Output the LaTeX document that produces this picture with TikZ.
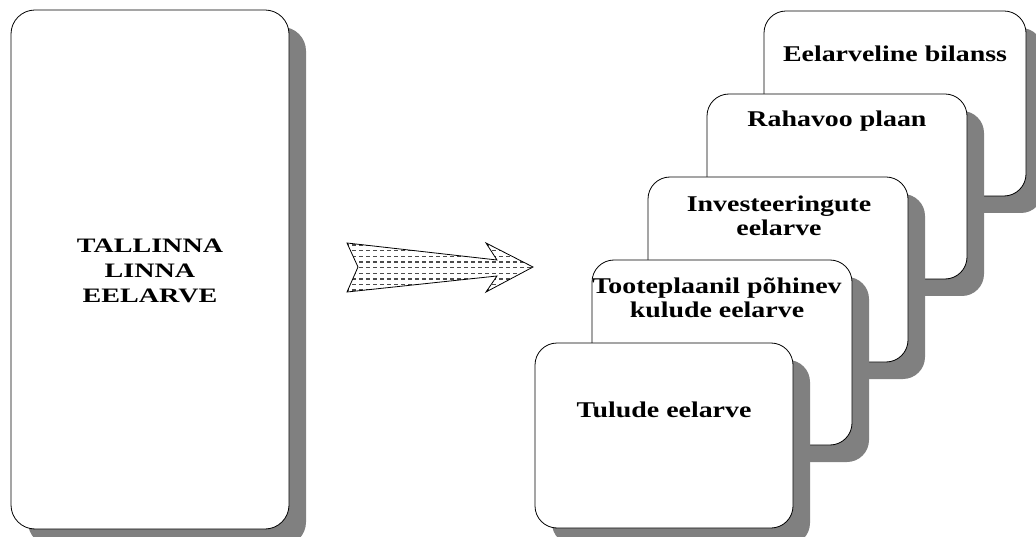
\documentclass[tikz,border=0pt]{standalone}
\usepackage{fontspec}
\setmainfont{Liberation Serif}
\newfontfamily\boxfont{Liberation Serif}[FakeStretch=1.24]
\newfontfamily\titlefont{Liberation Serif}[FakeStretch=1.37]
\usetikzlibrary{shadows}
\begin{document}
\begin{tikzpicture}[x=1pt,y=-1pt,
  card/.style={draw=black, line width=0.8pt, fill=white, rounded corners=22pt,
    anchor=north west, inner sep=0pt, outer sep=0pt, minimum height=185pt,
    drop shadow={shadow xshift=17pt, shadow yshift=-17pt, fill=black!50, opacity=1}},
  lbl/.style={anchor=base, align=center, inner sep=0pt,
    font=\boxfont\bfseries\fontsize{22.5}{24}\selectfont},
  biglbl/.style={anchor=base, align=center, inner sep=0pt,
    font=\titlefont\bfseries\fontsize{20.5}{25}\selectfont}
]
\useasboundingbox (0,0) rectangle (1036,537);

% the city budget (label anchored at the baseline of its last line)
\node[card, minimum width=278pt, minimum height=519pt, rounded corners=24pt] (city) at (11,10) {};
\node[biglbl] (citytxt) at (150,302) {TALLINNA\\LINNA\\EELARVE};

% block arrow with dashed fill
\coordinate (a1) at (347,243);
\coordinate (a2) at (497,260);
\coordinate (a3) at (486,243);
\coordinate (a4) at (533,267);
\coordinate (a5) at (486,292);
\coordinate (a6) at (497,276);
\coordinate (a7) at (347,292);
\coordinate (a8) at (358,267);
\begin{scope}
  \clip (a1) -- (a2) -- (a3) -- (a4) -- (a5) -- (a6) -- (a7) -- (a8) -- cycle;
  \foreach \k in {0,...,9} {
    \draw[black!70, line width=1.4pt, dash pattern=on 4pt off 3pt]
      (345,245+5.65*\k) -- (540,245+5.65*\k);
  }
\end{scope}
\draw[line width=0.8pt, line join=miter]
  (a1) -- (a2) -- (a3) -- (a4) -- (a5) -- (a6) -- (a7) -- (a8) -- cycle;

% stacked budget parts, back to front
\node[card, minimum width=262pt] (b5) at (764,11) {};
\node[lbl] (t5) at (895,62) {Eelarveline bilanss};

\node[card, minimum width=260pt] (b4) at (707,94) {};
\node[lbl] (t4) at (837,127) {Rahavoo plaan};

\node[card, minimum width=260pt] (b3) at (648,177) {};
\node[lbl] (t3) at (779,236) {Investeeringute\\eelarve};

\node[card, minimum width=260pt] (b2) at (592,260) {};
\node[lbl] (t2) at (717,317) {Tooteplaanil põhinev\\kulude eelarve};

\node[card, minimum width=258pt] (b1) at (535,343) {};
\node[lbl] (t1) at (664,417) {Tulude eelarve};
\end{tikzpicture}
\end{document}
